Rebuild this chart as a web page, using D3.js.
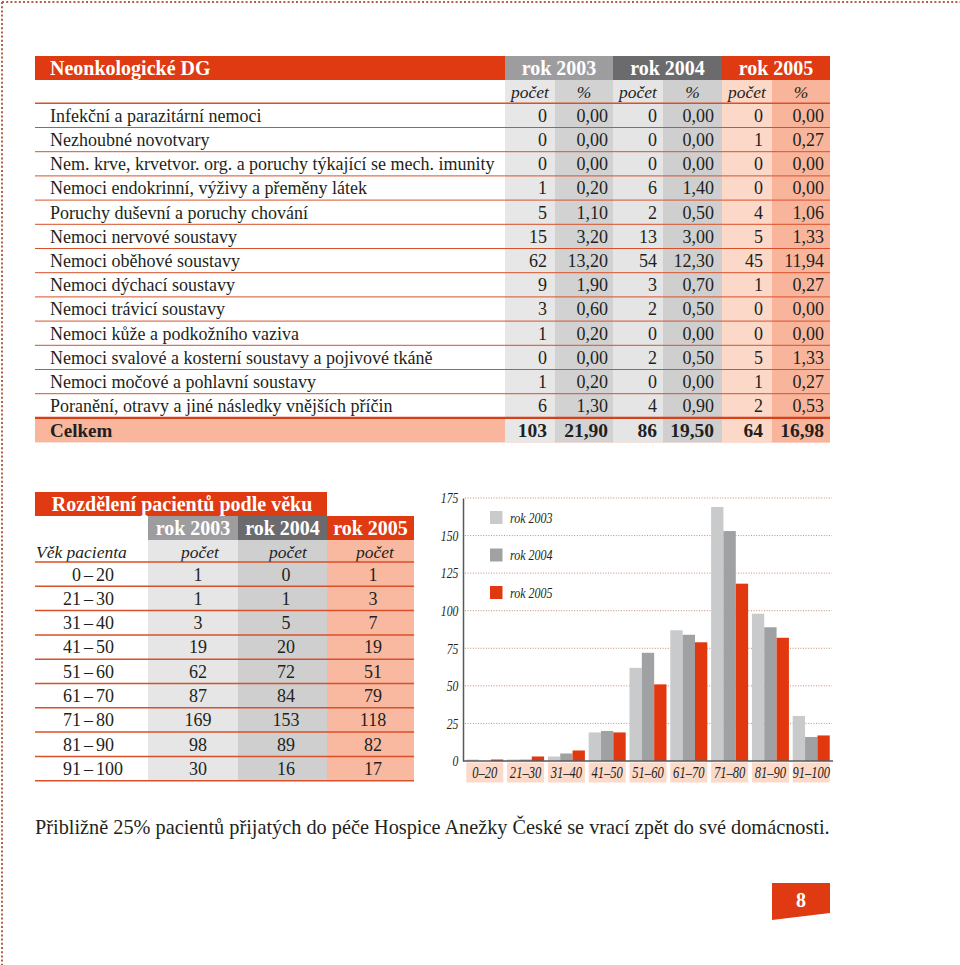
<!DOCTYPE html>
<html><head><meta charset="utf-8">
<script src="https://cdn.jsdelivr.net/npm/d3@7"></script>
<style>
body{margin:0;background:#fff}
svg{display:block}
text{font-family:"Liberation Serif","DejaVu Serif",serif;fill:#231f20}
</style>
</head><body>
<svg id="c" width="960" height="965"></svg>
<script>
// ---------- DATA ----------
const tableTitle = "Neonkologické DG";
const years = ["rok 2003", "rok 2004", "rok 2005"];
const subHeaders = ["počet", "%"];
const diagnoses = [
  "Infekční a parazitární nemoci",
  "Nezhoubné novotvary",
  "Nem. krve, krvetvor. org. a poruchy týkající se mech. imunity",
  "Nemoci endokrinní, výživy a přeměny látek",
  "Poruchy duševní a poruchy chování",
  "Nemoci nervové soustavy",
  "Nemoci oběhové soustavy",
  "Nemoci dýchací soustavy",
  "Nemoci trávicí soustavy",
  "Nemoci kůže a podkožního vaziva",
  "Nemoci svalové a kosterní soustavy a pojivové tkáně",
  "Nemoci močové a pohlavní soustavy",
  "Poranění, otravy a jiné následky vnějších příčin"
];
const count2003 = [0, 0, 0, 1, 5, 15, 62, 9, 3, 1, 0, 1, 6];
const pct2003   = [0, 0, 0, 0.20, 1.10, 3.20, 13.20, 1.90, 0.60, 0.20, 0, 0.20, 1.30];
const count2004 = [0, 0, 0, 6, 2, 13, 54, 3, 2, 0, 2, 0, 4];
const pct2004   = [0, 0, 0, 1.40, 0.50, 3.00, 12.30, 0.70, 0.50, 0, 0.50, 0, 0.90];
const count2005 = [0, 1, 0, 0, 4, 5, 45, 1, 0, 0, 5, 1, 2];
const pct2005   = [0, 0.27, 0, 0, 1.06, 1.33, 11.94, 0.27, 0, 0, 1.33, 0.27, 0.53];
const totalLabel = "Celkem";
const totalCount = [103, 86, 64];
const totalPct = [21.90, 19.50, 16.98];

const ageTitle = "Rozdělení pacientů podle věku";
const ageHeader = "Věk pacienta";
const countHeader = "počet";
const ageGroups = ["0–20", "21–30", "31–40", "41–50", "51–60", "61–70", "71–80", "81–90", "91–100"];
const age2003 = [1, 1, 3, 19, 62, 87, 169, 98, 30];
const age2004 = [0, 1, 5, 20, 72, 84, 153, 89, 16];
const age2005 = [1, 3, 7, 19, 51, 79, 118, 82, 17];
const yTicks = [0, 25, 50, 75, 100, 125, 150, 175];

const footnote = "Přibližně 25% pacientů přijatých do péče Hospice Anežky České se vrací zpět do své domácnosti.";
const pageNumber = "8";

// ---------- STYLE ----------
const RED = "#df3a11", GRAY = "#9d9d9f", DGRAY = "#6b6b6e";
const LINE = "#d9512a";
const colBg = ["#e7e7e7", "#d2d2d3", "#e5e5e5", "#cfcfd0", "#fcd8c8", "#f8b59c"];
const barColors = ["#c9cacc", "#a0a1a3", "#e1380f"];
const fmt = v => d3.format(".2f")(v).replace(".", ",");

const svg = d3.select("#c");

// page dotted border
svg.append("line").attr("x1", 2).attr("x2", 960).attr("y1", 2).attr("y2", 2)
  .attr("stroke", "#b5623c").attr("stroke-width", 2).attr("stroke-dasharray", "2,2.2");
svg.append("line").attr("x1", 2).attr("x2", 2).attr("y1", 2).attr("y2", 965)
  .attr("stroke", "#b5623c").attr("stroke-width", 2).attr("stroke-dasharray", "2,2.2");

// ---------- TOP TABLE ----------
const T = svg.append("g");
const L = 35, R = 830;
const colEdges = [505, 555, 613, 663, 722, 772, 830];
const headTop = 56, headBot = 80, rowH = 24.2, firstRow = 103.3;
const rowTop = i => firstRow + rowH * i;
const nRows = diagnoses.length;
const totalTop = rowTop(nRows);
const tableBot = totalTop + 24.5;

T.append("rect").attr("x", L).attr("y", headTop).attr("width", R - L).attr("height", headBot - headTop).attr("fill", RED);
[GRAY, DGRAY, RED].forEach((c, k) => {
  T.append("rect").attr("x", colEdges[2 * k]).attr("y", headTop)
    .attr("width", colEdges[2 * k + 2] - colEdges[2 * k]).attr("height", headBot - headTop).attr("fill", c);
});
T.append("text").attr("x", 50).attr("y", headTop + 19).text(tableTitle)
  .attr("font-weight", "bold").attr("font-size", 20).style("fill", "#fff");
years.forEach((y, k) => {
  T.append("text").attr("x", (colEdges[2 * k] + colEdges[2 * k + 2]) / 2).attr("y", headTop + 19)
    .attr("text-anchor", "middle").attr("font-weight", "bold").attr("font-size", 20).style("fill", "#fff").text(y);
});
T.append("rect").attr("x", L).attr("y", totalTop).attr("width", R - L).attr("height", tableBot - totalTop).attr("fill", "#f9b69c");
for (let c = 0; c < 6; c++) {
  T.append("rect").attr("x", colEdges[c]).attr("y", headBot).attr("width", colEdges[c + 1] - colEdges[c])
    .attr("height", tableBot - headBot).attr("fill", colBg[c]);
}
for (let c = 0; c < 6; c++) {
  T.append("text").attr("x", (colEdges[c] + colEdges[c + 1]) / 2).attr("y", headBot + 18)
    .attr("text-anchor", "middle").attr("font-style", "italic").attr("font-size", 17.5).text(subHeaders[c % 2]);
}
for (let i = 0; i <= nRows; i++) {
  const y = rowTop(i);
  T.append("line").attr("x1", L).attr("x2", R).attr("y1", y).attr("y2", y)
    .attr("stroke", i === nRows ? "#d8401a" : LINE)
    .attr("stroke-width", i === 0 ? 1.6 : (i === nRows ? 2.4 : 1));
}
const counts = [count2003, count2004, count2005];
const pcts = [pct2003, pct2004, pct2005];
const numRight = [547, 608, 657, 714, 763, 824];
diagnoses.forEach((d, i) => {
  const by = rowTop(i) + 18.5;
  T.append("text").attr("x", 50).attr("y", by).attr("font-size", 18).text(d);
  for (let k = 0; k < 3; k++) {
    T.append("text").attr("x", numRight[2 * k]).attr("y", by).attr("text-anchor", "end").attr("font-size", 18).text(counts[k][i]);
    T.append("text").attr("x", numRight[2 * k + 1]).attr("y", by).attr("text-anchor", "end").attr("font-size", 18).text(fmt(pcts[k][i]));
  }
});
{
  const by = totalTop + 19.5;
  T.append("text").attr("x", 50).attr("y", by).attr("font-size", 19).attr("font-weight", "bold").text(totalLabel);
  for (let k = 0; k < 3; k++) {
    T.append("text").attr("x", numRight[2 * k]).attr("y", by).attr("text-anchor", "end").attr("font-size", 19.5).attr("font-weight", "bold").text(totalCount[k]);
    T.append("text").attr("x", numRight[2 * k + 1]).attr("y", by).attr("text-anchor", "end").attr("font-size", 19.5).attr("font-weight", "bold").text(fmt(totalPct[k]));
  }
}

// ---------- AGE TABLE ----------
const A = svg.append("g");
const aL = 35, aR = 414;
const aCols = [148, 238, 327, 414];
const aHeadColors = [GRAY, DGRAY, RED];
const aBg = ["#e6e6e6", "#cfcfd0", "#f9b9a1"];
const aTitleTop = 492, aYearTop = 516, aSubTop = 540, aLine0 = 562, aRowH = 24.3;
const aBot = aLine0 + aRowH * ageGroups.length;
const numCenters = [198, 286, 373];

A.append("rect").attr("x", aL).attr("y", aTitleTop).attr("width", 327 - aL).attr("height", aYearTop - aTitleTop).attr("fill", RED);
A.append("text").attr("x", 182).attr("y", aTitleTop + 18.5).attr("text-anchor", "middle")
  .attr("font-weight", "bold").attr("font-size", 20).style("fill", "#fff").text(ageTitle);
years.forEach((y, k) => {
  A.append("rect").attr("x", aCols[k]).attr("y", aYearTop).attr("width", aCols[k + 1] - aCols[k]).attr("height", aSubTop - aYearTop).attr("fill", aHeadColors[k]);
  A.append("text").attr("x", (aCols[k] + aCols[k + 1]) / 2).attr("y", aYearTop + 18.5).attr("text-anchor", "middle")
    .attr("font-weight", "bold").attr("font-size", 20).style("fill", "#fff").text(y);
  A.append("rect").attr("x", aCols[k]).attr("y", aSubTop).attr("width", aCols[k + 1] - aCols[k]).attr("height", aBot - aSubTop).attr("fill", aBg[k]);
  A.append("text").attr("x", numCenters[k] + 2).attr("y", aSubTop + 17.5).attr("text-anchor", "middle")
    .attr("font-style", "italic").attr("font-size", 17.5).text(countHeader);
});
A.append("text").attr("x", aL + 1).attr("y", aSubTop + 17.5).attr("font-style", "italic").attr("font-size", 17.5).text(ageHeader);
for (let i = 0; i <= ageGroups.length; i++) {
  const y = aLine0 + aRowH * i;
  A.append("line").attr("x1", aL).attr("x2", aR).attr("y1", y).attr("y2", y).attr("stroke", LINE).attr("stroke-width", 1.5);
}
const ages = [age2003, age2004, age2005];
ageGroups.forEach((g, i) => {
  const by = aLine0 + aRowH * i + 18.5;
  const [a, b] = g.split("–");
  A.append("text").attr("x", 81).attr("y", by).attr("text-anchor", "end").attr("font-size", 18).text(a);
  A.append("text").attr("x", 88.5).attr("y", by).attr("text-anchor", "middle").attr("font-size", 18).text("–");
  A.append("text").attr("x", 96).attr("y", by).attr("text-anchor", "start").attr("font-size", 18).text(b);
  for (let k = 0; k < 3; k++) {
    A.append("text").attr("x", numCenters[k]).attr("y", by).attr("text-anchor", "middle").attr("font-size", 18).text(ages[k][i]);
  }
});

// ---------- BAR CHART ----------
const C = svg.append("g");
const x0 = 463, x1 = 833;
const y = d3.scaleLinear().domain([0, 175]).range([761, 498]);
const x = d3.scaleBand().domain(ageGroups).range([x0, x1]).paddingInner(0.093).paddingOuter(0.08);
const xs = d3.scaleBand().domain(years).range([0, x.bandwidth()]);

C.selectAll("line.grid").data(yTicks.filter(t => t > 0)).join("line").attr("class", "grid")
  .attr("x1", x0 + 2).attr("x2", 832).attr("y1", d => y(d)).attr("y2", d => y(d))
  .attr("stroke", "#c98b70").attr("stroke-width", 1).attr("stroke-dasharray", "1,1.6");

const barData = [];
ageGroups.forEach((g, i) => years.forEach((yr, k) => barData.push({ g, yr, k, v: ages[k][i] })));
C.selectAll("rect.bar").data(barData).join("rect").attr("class", "bar")
  .attr("x", d => x(d.g) + xs(d.yr)).attr("width", xs.bandwidth())
  .attr("y", d => y(d.v)).attr("height", d => y(0) - y(d.v))
  .attr("fill", d => barColors[d.k]);

const yAxis = C.append("g").attr("transform", `translate(${x0},0)`)
  .call(d3.axisLeft(y).tickValues(yTicks).tickSize(0).tickPadding(6));
yAxis.select(".domain").attr("stroke", "#58585a").attr("stroke-width", 1.5);
yAxis.selectAll("text").attr("font-family", "Liberation Serif, serif").attr("font-style", "italic")
  .attr("font-size", 15).attr("transform", "scale(0.78,1)").style("fill", "#231f20");
C.append("line").attr("x1", x0).attr("x2", x1).attr("y1", y(0)).attr("y2", y(0)).attr("stroke", "#58585a").attr("stroke-width", 1.5);

const xAxis = C.append("g").attr("transform", `translate(0,${y(0) + 1})`)
  .call(d3.axisBottom(x).tickSize(0).tickPadding(0));
xAxis.select(".domain").remove();
xAxis.selectAll(".tick").insert("rect", "text")
  .attr("x", -x.bandwidth() / 2).attr("y", 0.5).attr("width", x.bandwidth()).attr("height", 20).attr("fill", "#fcd9c9");
xAxis.selectAll("text").attr("font-family", "Liberation Serif, serif").attr("font-style", "italic")
  .attr("font-size", 17).attr("y", 16).attr("dy", null).attr("transform", "scale(0.74,1)").style("fill", "#231f20");

years.forEach((yr, k) => {
  const ly = 511 + k * 37.5;
  C.append("rect").attr("x", 490).attr("y", ly).attr("width", 12.5).attr("height", 13).attr("fill", barColors[k]);
  C.append("text").attr("transform", `translate(510,${ly + 11.5}) scale(0.8,1)`)
    .attr("font-style", "italic").attr("font-size", 15).text(yr);
});

// ---------- FOOTER ----------
svg.append("text").attr("x", 35).attr("y", 834).attr("font-size", 20.3).text(footnote);
svg.append("polygon").attr("points", "772,883 830,883 830,913 772,920").attr("fill", RED);
svg.append("text").attr("x", 801).attr("y", 907).attr("text-anchor", "middle").attr("font-weight", "bold")
  .attr("font-size", 20).style("fill", "#fff").text(pageNumber);
</script>
</body></html>
